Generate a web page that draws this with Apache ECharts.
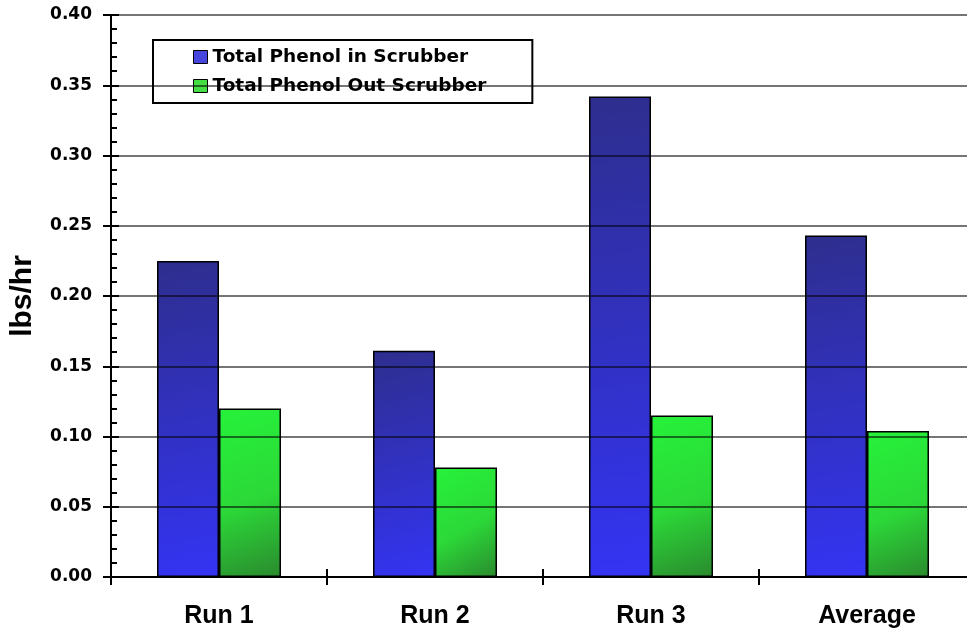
<!DOCTYPE html>
<html>
<head>
<meta charset="utf-8">
<script src="https://cdn.jsdelivr.net/npm/echarts@6/dist/echarts.min.js"></script>
<style>
html,body{margin:0;padding:0;background:#fff;}
#chart{width:967px;height:632px;}
</style>
</head>
<body>
<div id="chart"></div>
<script>
var categories = ['Run 1', 'Run 2', 'Run 3', 'Average'];
var seriesNames = ['Total Phenol in Scrubber', 'Total Phenol Out Scrubber'];
var phenolIn = [0.225, 0.161, 0.342, 0.243];
var phenolOut = [0.120, 0.078, 0.115, 0.104];
var yTicks = { min: 0, max: 0.40, interval: 0.05 };
var yAxisName = 'lbs/hr';

var ARIAL = '"Liberation Sans", Arial, sans-serif';
var WIDE = '"DejaVu Sans", "Liberation Sans", sans-serif';
var chart = echarts.init(document.getElementById('chart'), null, { renderer: 'canvas' });

var blueGrad = new echarts.graphic.LinearGradient(0, 0, 1, 1, [
  { offset: 0, color: '#2e2e8e' },
  { offset: 1, color: '#3434f4' }
]);
var greenGrad = new echarts.graphic.LinearGradient(0, 0, 1, 1, [
  { offset: 0, color: '#26f23a' },
  { offset: 0.55, color: '#2cd838' },
  { offset: 1, color: '#2a8a2e' }
]);

chart.setOption({
  animation: false,
  backgroundColor: '#ffffff',
  grid: { left: 111, width: 864, top: 15, bottom: 55, containLabel: false, outerBoundsMode: 'none' },
  legend: {
    orient: 'vertical',
    left: 153,
    top: 40,
    padding: [7, 46, 7, 40],
    itemGap: 9,
    itemWidth: 14,
    itemHeight: 13,
    backgroundColor: '#ffffff',
    borderColor: '#000000',
    borderWidth: 2,
    textStyle: { fontFamily: WIDE, fontWeight: 'bold', fontSize: 18.5, lineHeight: 20, color: '#000' },
    data: [
      { name: seriesNames[0], icon: 'rect', itemStyle: { color: '#4646de', borderColor: '#000', borderWidth: 1 } },
      { name: seriesNames[1], icon: 'rect', itemStyle: { color: '#44dd44', borderColor: '#000', borderWidth: 1 } }
    ]
  },
  xAxis: [
    {
      type: 'category',
      data: categories,
      axisLine: { lineStyle: { color: '#000', width: 2 } },
      axisTick: { show: true, length: 8, inside: false, lineStyle: { color: '#000', width: 2 } },
      axisLabel: { margin: 27, fontFamily: ARIAL, fontWeight: 'bold', fontSize: 25, color: '#000' },
      z: 5
    },
    {
      type: 'category',
      data: categories,
      position: 'bottom',
      axisLine: { show: false },
      axisTick: { show: true, length: 8, inside: true, lineStyle: { color: '#000', width: 2 } },
      axisLabel: { show: false },
      z: 5
    }
  ],
  yAxis: [
    {
      type: 'value',
      min: yTicks.min,
      max: yTicks.max,
      interval: yTicks.interval,
      name: yAxisName,
      nameLocation: 'middle',
      nameGap: 73,
      nameTextStyle: { fontFamily: ARIAL, fontWeight: 'bold', fontSize: 30, color: '#000' },
      axisLine: { show: true, lineStyle: { color: '#000', width: 2 } },
      axisTick: { show: true, length: 8, inside: false, lineStyle: { color: '#000', width: 2 } },
      axisLabel: {
        margin: 19, fontFamily: WIDE, fontWeight: 'bold', fontSize: 17, color: '#000',
        formatter: function (v) { return v.toFixed(2); }
      },
      splitLine: { show: true, lineStyle: { color: 'rgba(0,0,0,0.72)', width: 1.5 } },
      z: 5
    },
    {
      type: 'value',
      min: yTicks.min,
      max: yTicks.max,
      interval: yTicks.interval,
      position: 'left',
      offset: 0,
      axisLine: { show: false },
      axisTick: { show: true, length: 8, inside: true, lineStyle: { color: '#000', width: 2 } },
      minorTick: { show: true, splitNumber: 5, length: 6, lineStyle: { color: '#000', width: 2 } },
      axisLabel: { show: false },
      splitLine: { show: false },
      z: 5
    }
  ],
  series: [
    {
      name: seriesNames[0],
      type: 'bar',
      data: phenolIn,
      barGap: '0%',
      barCategoryGap: '42.6%',
      itemStyle: { color: blueGrad, borderColor: '#000', borderWidth: 1.5 }
    },
    {
      name: seriesNames[1],
      type: 'bar',
      data: phenolOut,
      barGap: '0%',
      barCategoryGap: '42.6%',
      itemStyle: { color: greenGrad, borderColor: '#000', borderWidth: 1.5 }
    }
  ]
});
</script>
</body>
</html>
